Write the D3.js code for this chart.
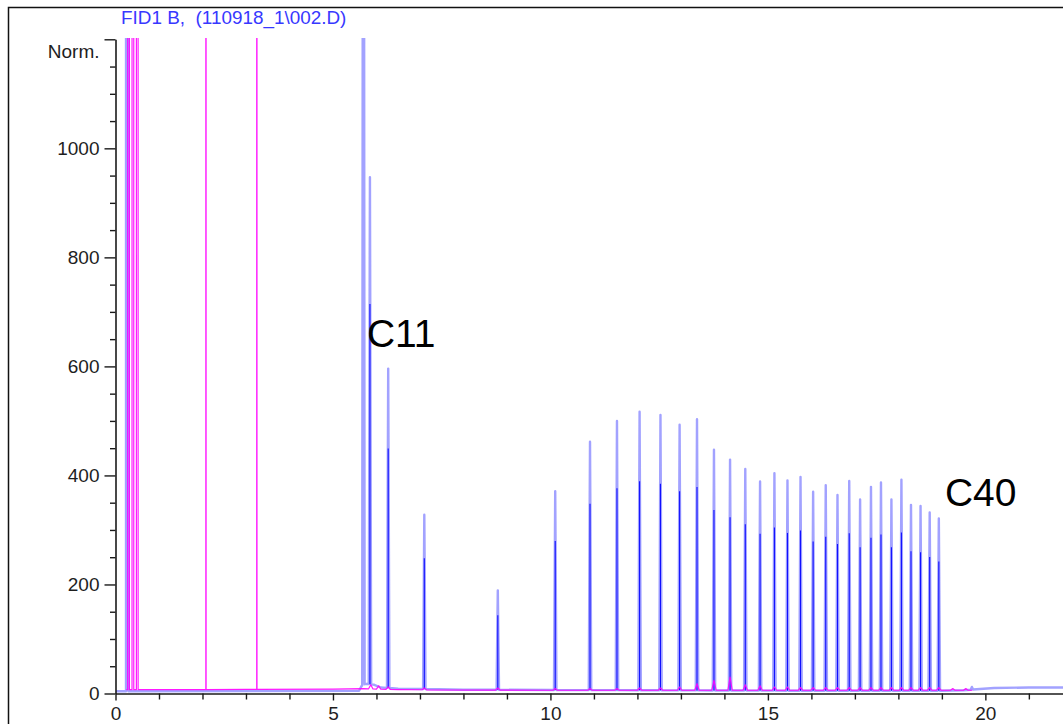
<!DOCTYPE html>
<html><head><meta charset="utf-8">
<script src="https://cdn.jsdelivr.net/npm/d3@7"></script>
<style>html,body{margin:0;padding:0;background:#fff;overflow:hidden}</style>
</head><body>
<svg id="chart" width="1063" height="724"></svg>
<script>
// ---------------- data ----------------
const titleText = "FID1 B,  (110918_1\\002.D)";
const yMajorTicks = [0, 200, 400, 600, 800, 1000, 1200];
const yTickLabels = ["0", "200", "400", "600", "800", "1000", "Norm."];
const yMinorTicks = [50,100,150,250,300,350,450,500,550,650,700,750,850,900,950,1050,1100,1150];
const xMajorTicks = [0, 5, 10, 15, 20];
const xMinorTicks = [1,2,3,4,6,7,8,9,11,12,13,14,16,17,18,19,21];

// blue trace (FID1 B): peak retention times (min) and apex values (norm.)
const blueTimes  = [0.27, 5.70, 5.85, 6.27, 7.10, 8.79, 10.11, 10.91, 11.53, 12.05, 12.53, 12.97, 13.37, 13.76, 14.13, 14.48, 14.82, 15.15, 15.45, 15.75, 16.04, 16.33, 16.60, 16.87, 17.12, 17.37, 17.60, 17.84, 18.07, 18.29, 18.51, 18.72, 18.93, 19.69];
const blueValues = [100000, 3000, 947, 596, 328, 189, 371, 462, 500, 517, 511, 493, 503, 447, 429, 412, 389, 404, 391, 397, 370, 382, 364, 390, 356, 379, 387, 356, 392, 346, 344, 332, 321, 12];
// blue baseline
const blueBaseTimes  = [0, 5.6, 5.66, 5.75, 5.95, 6.1, 6.5, 8, 12, 16, 19, 19.5, 20.2, 21, 22];
const blueBaseValues = [4, 5, 14, 18, 16, 11, 9, 7, 6, 5, 5, 6, 10, 11, 11];

// pink trace: spikes / small bumps
const pinkTimes  = [0.30, 0.40, 0.50, 2.08, 3.25, 5.87, 6.05, 6.27, 7.10, 8.79, 10.11, 10.91, 11.53, 12.05, 12.53, 12.97, 13.37, 13.76, 14.13, 14.48, 14.82, 15.15, 15.45, 15.75, 16.04, 16.33, 16.60, 16.87, 17.12, 17.37, 17.60, 17.84, 18.07, 18.29, 18.51, 18.72, 18.93, 19.25, 19.55];
const pinkValues = [100000, 100000, 100000, 100000, 100000, 16, 14, 12, 10, 10, 9, 9, 9, 10, 10, 12, 18, 24, 30, 16, 14, 12, 12, 11, 11, 11, 11, 11, 11, 11, 11, 11, 11, 11, 11, 11, 11, 9, 9];
const pinkBaseTimes  = [0.25, 1, 3, 5, 5.7, 6.0, 6.5, 10, 15, 19.7];
const pinkBaseValues = [7, 7, 7.5, 8, 9, 8, 7, 6, 6, 6];

// annotations
const annoText  = ["C11", "C40"];
const annoTimes = [5.78, 19.07];
const annoValues = [636, 344];

// ---------------- layout ----------------
const svg = d3.select("#chart");
const FONT = "'Liberation Sans', Arial, Helvetica, sans-serif";
const x = d3.scaleLinear().domain([0, 21.785]).range([115.5, 1063]);
const y = d3.scaleLinear().domain([0, 1200]).range([693.5, 39.3]);

// frame
svg.append("path").attr("d", "M8.5,724 L8.5,7.5 L1063,7.5")
  .attr("fill", "none").attr("stroke", "#111").attr("stroke-width", 1.5);

// title
svg.append("text").attr("x", 121).attr("y", 23.5)
  .attr("font-family", FONT).attr("font-size", 18.9).attr("fill", "#3838ff")
  .attr("xml:space", "preserve").style("white-space", "pre")
  .text(titleText);

// clip
svg.append("defs").append("clipPath").attr("id", "plotclip")
  .append("rect").attr("x", 116).attr("y", 38).attr("width", 1063 - 116).attr("height", 694 - 38);

function buildPoints(times, values, baseTimes, baseValues, w, startT, endT) {
  const base = d3.scaleLinear().domain(baseTimes).range(baseValues).clamp(true);
  let pts = [];
  baseTimes.forEach((t, i) => {
    if (t < startT || t > endT) return;
    if (times.some((pt, j) => Math.abs(t - pt) <= w[j])) return;
    pts.push([t, baseValues[i]]);
  });
  times.forEach((t, i) => {
    pts.push([t - w[i], base(t - w[i])]);
    pts.push([t, Math.max(values[i], base(t))]);
    pts.push([t + w[i], base(t + w[i])]);
  });
  pts.sort((a, b) => a[0] - b[0]);
  return pts;
}

const line = d3.line().x(d => x(d[0])).y(d => y(d[1]));
const g = svg.append("g").attr("clip-path", "url(#plotclip)");

// blue trace
const blueW = blueTimes.map(t => 0.028);
const bluePts = buildPoints(blueTimes, blueValues, blueBaseTimes, blueBaseValues, blueW, 0, 22);
g.append("path").attr("d", line(bluePts)).attr("fill", "none")
  .attr("stroke", "#7a7aff").attr("stroke-opacity", 0.7).attr("stroke-width", 2.4)
  .attr("stroke-linejoin", "round");
const blueBase = d3.scaleLinear().domain(blueBaseTimes).range(blueBaseValues).clamp(true);
g.append("g").selectAll("line").data(blueTimes.map((t, i) => [t, blueValues[i]]).filter(d => d[1] < 2000 && d[1] > 50))
  .join("line")
  .attr("x1", d => x(d[0])).attr("x2", d => x(d[0]))
  .attr("y1", d => y(blueBase(d[0])))
  .attr("y2", d => y(blueBase(d[0]) + 0.75 * (d[1] - blueBase(d[0]))))
  .attr("stroke", "#1010ff").attr("stroke-width", 1.1);

// pink trace
const pinkW = pinkValues.map((v, i) => v > 1000 ? (pinkTimes[i] < 1 ? 0.02 : 0.003) : 0.05);
const pinkPts = buildPoints(pinkTimes, pinkValues, pinkBaseTimes, pinkBaseValues, pinkW, 0.25, 19.7);
g.append("path").attr("d", line(pinkPts)).attr("fill", "none")
  .attr("stroke", "#ff00ff").attr("stroke-opacity", 0.9).attr("stroke-width", 1.2)
  .attr("stroke-linejoin", "round");

// axes
const axisStyle = sel => {
  sel.selectAll("path.domain").attr("stroke", "#1a1a1a").attr("stroke-width", 1.6);
  sel.selectAll(".tick line").attr("stroke", "#1a1a1a").attr("stroke-width", 1.4);
  sel.selectAll("text").attr("font-family", FONT).attr("font-size", 19).attr("fill", "#1e1e1e");
};

const yAx = svg.append("g").attr("transform", "translate(115.5,0)")
  .call(d3.axisLeft(y).tickValues(yMajorTicks).tickSize(11).tickSizeOuter(0).tickPadding(5)
    .tickFormat((d, i) => yTickLabels[i]));
axisStyle(yAx);
yAx.selectAll(".tick text").filter(d => d === 1200).attr("dy", "0.95em");
svg.append("g").attr("transform", "translate(115.5,0)")
  .call(d3.axisLeft(y).tickValues(yMinorTicks).tickSize(5.5).tickSizeOuter(0).tickFormat(""))
  .call(axisStyle).select("path.domain").remove();

const xAx = svg.append("g").attr("transform", "translate(0,693.5)")
  .call(d3.axisBottom(x).tickValues(xMajorTicks).tickSize(7).tickSizeOuter(0).tickPadding(6)
    .tickFormat(d3.format("d")));
axisStyle(xAx);
svg.append("g").attr("transform", "translate(0,693.5)")
  .call(d3.axisBottom(x).tickValues(xMinorTicks).tickSize(6).tickSizeOuter(0).tickFormat(""))
  .call(axisStyle).select("path.domain").remove();

// annotations
svg.append("g").selectAll("text").data(annoText).join("text")
  .attr("x", (d, i) => x(annoTimes[i])).attr("y", (d, i) => y(annoValues[i]))
  .attr("font-family", FONT).attr("font-size", 39).attr("fill", "#000")
  .text(d => d);
</script>
</body></html>
